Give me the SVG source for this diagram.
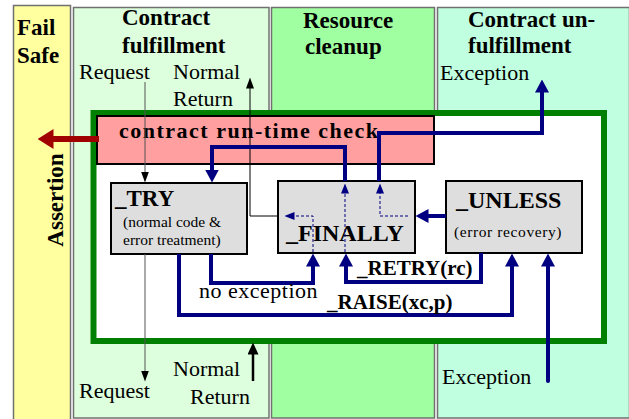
<svg xmlns="http://www.w3.org/2000/svg" width="629" height="419" viewBox="0 0 629 419">
  <defs>
    <style>
      text { font-family: 'Liberation Serif', 'DejaVu Serif', serif; fill: #000; }
      .lane { stroke: #707070; stroke-width: 1.5; }
      .hdr { font-weight: bold; font-size: 23px; }
      .lbl { font-size: 22px; }
      .sub { font-size: 15.5px; }
      .code { font-weight: bold; }
      .box { fill: #dedede; stroke: #000; stroke-width: 2; }
      .flow { fill: none; stroke: #000080; stroke-width: 4; stroke-linejoin: miter; }
      .dash { fill: none; stroke: #000080; stroke-width: 1; stroke-dasharray: 3 2; }
      .thin { fill: none; stroke: #000; stroke-width: 1; }
      .gray { fill: none; stroke: #555; stroke-width: 1; }
    </style>
    <marker id="navy" markerUnits="userSpaceOnUse" viewBox="0 -7 13 14" refX="0.5" refY="0" markerWidth="13" markerHeight="14" orient="auto">
      <path d="M0,-7 L13,0 L0,7 z" fill="#000080"/>
    </marker>
    <marker id="navySmall" markerUnits="userSpaceOnUse" viewBox="0 -4 10 8" refX="0.5" refY="0" markerWidth="10" markerHeight="8" orient="auto">
      <path d="M0,-4 L10,0 L0,4 z" fill="#000080"/>
    </marker>
    <marker id="black" markerUnits="userSpaceOnUse" viewBox="0 -4 11 8" refX="0.5" refY="0" markerWidth="11" markerHeight="8" orient="auto">
      <path d="M0,-4 L11,0 L0,4 z" fill="#000"/>
    </marker>
    <marker id="blackBig" markerUnits="userSpaceOnUse" viewBox="0 -5.5 12 11" refX="0.5" refY="0" markerWidth="12" markerHeight="11" orient="auto">
      <path d="M0,-5.5 L12,0 L0,5.5 z" fill="#000"/>
    </marker>
    <marker id="red" markerUnits="userSpaceOnUse" viewBox="0 -10 16 20" refX="0.5" refY="0" markerWidth="16" markerHeight="20" orient="auto">
      <path d="M0,-10 L16,0 L0,10 z" fill="#a00000"/>
    </marker>
  </defs>

  <rect width="629" height="419" fill="#fff"/>

  <g id="lane-failsafe">
    <rect class="lane" x="13.5" y="5.5" width="57" height="420" fill="#ffffa0"/>
    <text class="hdr" x="17" y="35" font-size="24">Fail</text>
    <text class="hdr" x="17" y="63" font-size="24">Safe</text>
    <text class="hdr" transform="translate(63,200) rotate(-90)" text-anchor="middle" x="0" y="0">Assertion</text>
  </g>

  <g id="lane-fulfillment">
    <rect class="lane" x="73.5" y="7.5" width="195.5" height="410.5" fill="#ddffdd"/>
    <text class="hdr" x="122" y="25">Contract</text>
    <text class="hdr" x="122" y="53">fulfillment</text>
    <text class="lbl" x="79" y="79">Request</text>
    <text class="lbl" x="173" y="79">Normal</text>
    <text class="lbl" x="173" y="106">Return</text>
    <text class="lbl" x="79" y="398">Request</text>
    <text class="lbl" x="173" y="376">Normal</text>
    <text class="lbl" x="190" y="404">Return</text>
  </g>

  <g id="lane-cleanup">
    <rect class="lane" x="271.5" y="7.5" width="163" height="410.5" fill="#a0ffa0"/>
    <text class="hdr" x="303" y="28">Resource</text>
    <text class="hdr" x="305" y="54">cleanup</text>
  </g>

  <g id="lane-unfulfillment">
    <rect class="lane" x="437.5" y="7.5" width="192" height="410.5" fill="#c0ffe0"/>
    <text class="hdr" x="468" y="27">Contract un-</text>
    <text class="hdr" x="468" y="53">fulfillment</text>
    <text class="lbl" x="440" y="80">Exception</text>
    <text class="lbl" x="442" y="384">Exception</text>
  </g>

  <g id="frame">
    <rect x="93.5" y="113" width="510.5" height="228" fill="#fff" stroke="#008000" stroke-width="6"/>
  </g>

  <g id="runtime-check">
    <rect x="97" y="116" width="337" height="48" fill="#ff9f9f" stroke="#000" stroke-width="2"/>
    <text class="code" x="119" y="138" font-size="22" letter-spacing="1.5">contract run-time check</text>
  </g>

  <g id="try">
    <rect class="box" x="111" y="183" width="136" height="71"/>
    <text class="code" x="115" y="206" font-size="23">_TRY</text>
    <text class="sub" x="123" y="227">(normal code &amp;</text>
    <text class="sub" x="123" y="245">error treatment)</text>
  </g>

  <g id="finally">
    <rect class="box" x="278" y="181" width="137" height="72"/>
    <text class="code" x="286" y="241" font-size="24">_FINALLY</text>
  </g>

  <g id="unless">
    <rect class="box" x="446" y="181" width="136" height="72"/>
    <text class="code" x="456" y="208" font-size="24">_UNLESS</text>
    <text class="sub" x="454" y="237" font-size="17" letter-spacing="0.6">(error recovery)</text>
  </g>

  <g id="connectors">
    <path d="M99,139 L53,139" fill="none" stroke="#a00000" stroke-width="6" marker-end="url(#red)"/>
    <path class="gray" d="M145,82 L145,172" marker-end="url(#black)"/>
    <path class="thin" d="M278,216 L250,216 L250,88" marker-end="url(#black)"/>
    <path class="gray" d="M145,254 L145,371" marker-end="url(#black)"/>
    <path d="M253,381 L253,354" fill="none" stroke="#000" stroke-width="2.5" marker-end="url(#blackBig)"/>

    <path class="flow" d="M211,254 L211,283 L313,283 L313,266" marker-end="url(#navy)"/>
    <path class="dash" d="M313,252 L313,216 L294,216" marker-end="url(#navySmall)"/>

    <path class="flow" d="M179,254 L179,315 L512,315 L512,266" marker-end="url(#navy)"/>

    <path class="flow" d="M481,253 L481,282 L346,282 L346,266" marker-end="url(#navy)"/>
    <path class="dash" d="M345,252 L345,193" marker-end="url(#navySmall)"/>
    <path class="flow" d="M345,181 L345,147 L212,147 L212,170" marker-end="url(#navy)"/>

    <path class="flow" d="M446,216 L428,216" marker-end="url(#navy)"/>
    <path class="dash" d="M408,216 L380,216 L380,193" marker-end="url(#navySmall)"/>
    <path class="flow" d="M379,181 L379,133 L542,133 L542,92" marker-end="url(#navy)"/>

    <path class="flow" d="M548,381 L548,266" stroke-linecap="round" marker-end="url(#navy)"/>

    <text class="lbl" x="199" y="298" letter-spacing="0.5">no exception</text>
    <text class="code" x="357" y="275" font-size="21">_RETRY(rc)</text>
    <text class="code" x="327" y="309" font-size="21">_RAISE(xc,p)</text>
  </g>
</svg>
